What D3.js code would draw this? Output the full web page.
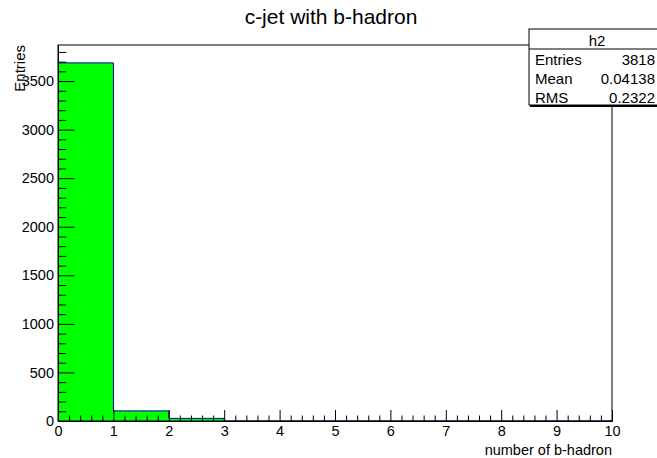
<!DOCTYPE html>
<meta charset="utf-8">
<script src="https://d3js.org/d3.v7.min.js"></script>
<style>
  body { margin: 0; background: #fff; }
  text { font-family: "Liberation Sans", Arial, sans-serif; fill: #000; }
</style>
<div id="my_dataviz"></div>
<script>

// histogram data: bins of width 1 from 0 to 10
var binEdges = [0, 1, 2, 3, 4, 5, 6, 7, 8, 9, 10];
var binCounts = [3687, 104, 27, 0, 0, 0, 0, 0, 0, 0];
var xTicks = [0, 1, 2, 3, 4, 5, 6, 7, 8, 9, 10];
var yTicks = [0, 500, 1000, 1500, 2000, 2500, 3000, 3500];
var statLabels = ["Entries", "Mean", "RMS"];
var statValues = ["3818", "0.04138", "0.2322"];

var W = 657, H = 458;
var margin = {top: 45, right: 45, bottom: 37, left: 58},
    width = W - margin.left - margin.right,
    height = H - margin.top - margin.bottom;

var svg = d3.select("#my_dataviz")
  .append("svg")
    .attr("width", W)
    .attr("height", H);

var g = svg.append("g")
    .attr("transform", "translate(" + margin.left + "," + margin.top + ")");

var xScale = d3.scaleLinear()
    .domain([0, 10])
    .range([0, width]);
var yScale = d3.scaleLinear()
    .domain([0, d3.max(binCounts) * 1.05])
    .range([height, 0]);

// bars
var bins = binCounts.map(function(c, i) { return {x0: binEdges[i], x1: binEdges[i + 1], n: c}; });
g.selectAll(".bar")
  .data(bins)
  .enter().append("rect")
    .attr("x", function(d) { return xScale(d.x0); })
    .attr("y", function(d) { return yScale(d.n); })
    .attr("width", function(d) { return xScale(d.x1) - xScale(d.x0); })
    .attr("height", function(d) { return yScale(0) - yScale(d.n); })
    .attr("fill", "#00ff00");

// outline as a step line
var pts = [];
bins.forEach(function(d) {
  pts.push([d.x0, d.n]);
  pts.push([d.x1, d.n]);
});
g.append("path")
  .attr("d", d3.line()
      .x(function(d) { return xScale(d[0]); })
      .y(function(d) { return yScale(d[1]); })(pts))
  .attr("fill", "none")
  .attr("stroke", "#000099")
  .attr("stroke-width", 1);

// frame
g.append("rect")
  .attr("x", 0).attr("y", 0)
  .attr("width", width).attr("height", height)
  .attr("fill", "none")
  .attr("stroke", "#000")
  .attr("stroke-width", 1);

// x axis, major + minor ticks pointing up
var xMinor = d3.range(0, 10.001, 0.2).filter(function(v) { return Math.abs(v - Math.round(v)) > 1e-6; });
var xAxis = g.append("g")
  .attr("transform", "translate(0," + height + ")")
  .call(d3.axisBottom(xScale).tickValues(xTicks).tickFormat(d3.format("d"))
        .tickSizeInner(-11).tickSizeOuter(0).tickPadding(5));
g.append("g")
  .attr("transform", "translate(0," + height + ")")
  .call(d3.axisBottom(xScale).tickValues(xMinor).tickFormat("")
        .tickSizeInner(-5.5).tickSizeOuter(0));

// y axis, major + minor ticks pointing right
var yMinor = d3.range(0, 3801, 100).filter(function(v) { return v % 500 !== 0; });
var yAxis = g.append("g")
  .call(d3.axisLeft(yScale).tickValues(yTicks).tickFormat(d3.format("d"))
        .tickSizeInner(-16.6).tickSizeOuter(0).tickPadding(4));
g.append("g")
  .call(d3.axisLeft(yScale).tickValues(yMinor).tickFormat("")
        .tickSizeInner(-8.3).tickSizeOuter(0));

g.selectAll(".domain").attr("stroke", "#000");
g.selectAll(".tick line").attr("stroke", "#000");
g.selectAll(".tick text")
  .style("font-family", "'Liberation Sans', Arial, sans-serif")
  .style("font-size", "14.5px")
  .attr("fill", "#000");

// title
svg.append("text")
  .attr("x", 331)
  .attr("y", 24)
  .attr("text-anchor", "middle")
  .style("font-size", "21px")
  .text("c-jet with b-hadron");

// axis titles
svg.append("text")
  .attr("x", margin.left + width)
  .attr("y", 455)
  .attr("text-anchor", "end")
  .style("font-size", "14.5px")
  .text("number of b-hadron");

svg.append("text")
  .attr("transform", "translate(25,45) rotate(-90)")
  .attr("text-anchor", "end")
  .style("font-size", "15px")
  .text("Entries");

// statistics box
var box = svg.append("g").attr("transform", "translate(529,29)");
box.append("rect")
  .attr("x", 1).attr("y", 2)
  .attr("width", 140).attr("height", 76)
  .attr("fill", "#000");
box.append("rect")
  .attr("x", 0).attr("y", 0)
  .attr("width", 140).attr("height", 76)
  .attr("fill", "#fff")
  .attr("stroke", "#000");
box.append("line")
  .attr("x1", 0).attr("x2", 140)
  .attr("y1", 20).attr("y2", 20)
  .attr("stroke", "#000");
box.append("text")
  .attr("x", 68).attr("y", 17)
  .attr("text-anchor", "middle")
  .style("font-size", "15px")
  .text("h2");
statLabels.forEach(function(s, i) {
  box.append("text")
    .attr("x", 6).attr("y", 36 + i * 19)
    .style("font-size", "15px")
    .text(s);
  box.append("text")
    .attr("x", 126).attr("y", 36 + i * 19)
    .attr("text-anchor", "end")
    .style("font-size", "15px")
    .text(statValues[i]);
});

</script>
